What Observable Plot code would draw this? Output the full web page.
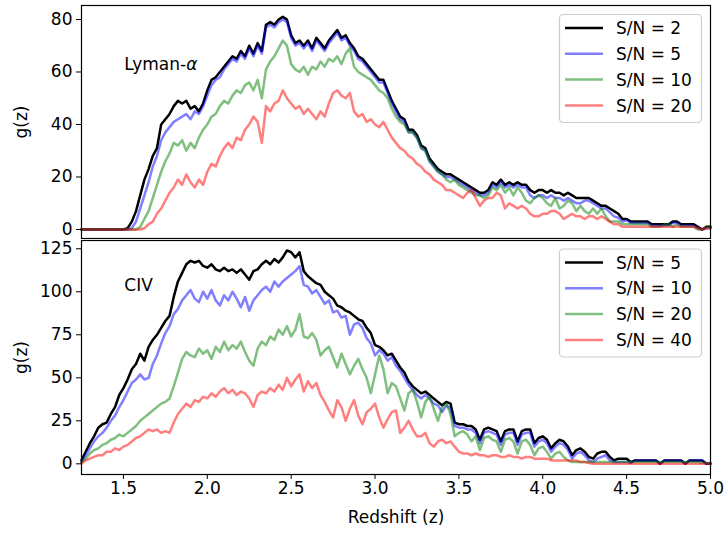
<!DOCTYPE html>
<html><head><meta charset="utf-8">
<script src="https://cdn.jsdelivr.net/npm/d3@7"></script>
<script src="https://cdn.jsdelivr.net/npm/@observablehq/plot@0.6"></script>
<style>
body{margin:0;background:#fff;}
#wrap{position:relative;width:727px;height:538px;font-family:"DejaVu Sans",sans-serif;overflow:hidden;}
.panel{position:absolute;left:0;}
.leg{position:absolute;left:0;top:0;}
</style></head>
<body><div id="wrap"></div>
<script>
// Redshift grid (step 0.025 from 1.25 to 5.00)
const redshift = d3.range(151).map(i => +(1.25 + 0.025 * i).toFixed(3));

// ---- Lyman-alpha panel: g(z) for each S/N ----
const lyaSN2 = [
 0,0,0,0,0,0,0,0,0,0,
 0,0.5,3,7,13,19,23,28,31,40,
 42,44,47,49,48,49,46,47,45,48,
 53,57,58,60,62,64,66,65,68,66,
 70,67,71,68,78,79,78,80,81,80,
 74,71,72,70,72,69,73,71,69,72,
 74,76,73,74,71,69,66,65,63,61,
 59,57,57,53,49,46,43,42,38,38,
 36,32,31,27,25,23,22,21,21,20,
 19,18,17,16,15,14,14,15,18,17,
 19,17,18,17,18,17,17,15,14,15,
 15,14,15,14,14,13,14,13,12,12,
 12,12,11,10,9,9,8,7,6,4,
 4,3,3,3,3,3,2,2,2,2,
 2,3,3,2,2,2,2,1,0,1,
 1];
const lyaSN5 = [
 0,0,0,0,0,0,0,0,0,0,
 0,0,0.5,3,8,13,18,24,28,34,
 37,39,41,42,43,44,42,45,44,47,
 51,55,57,58,61,63,65,64,67,65,
 69,66,70,67,77,78,77,79,80,79,
 73,70,71,69,71,68,72,70,68,71,
 73,75,72,73,70,68,65,64,62,60,
 58,56,56,52,48,45,42,41,37,37,
 35,31,30,26,24,22,21,20,20,19,
 18,17,16,15,14,13,13,14,17,16,
 18,16,17,16,17,16,16,13,12,13,
 13,12,13,12,12,11,12,11,10,10,
 11,11,10,9,8,8,6.5,5,4.5,3,
 3.5,2.5,2.5,2.5,2.5,2.5,1.5,1.5,1.5,1.5,
 1.5,2.5,2.5,1.5,1.5,1.5,1.5,0.5,0,0.5,
 0.5];
const lyaSN10 = [
 0,0,0,0,0,0,0,0,0,0,
 0,0,0,0,1,4,7,12,17,22,
 26,29,33,32,34,30,33,31,35,38,
 40,43,44,47,49,48,51,53,52,55,
 56,53,57,50,61,64,66,69,72,70,
 63,61,60,62,59,62,61,64,62,65,
 64,66,63,67,69,62,60,59,58,57,
 55,53,52,50,46,43,41,40,37,37,
 35,31,30,26,24,22,21,19,18,19,
 17,16,15,14,13,13,12,13,16,15,
 17,14,16,13,16,14,11,10,12,13,
 12,10,9,12,8,9,11,10,7,9,
 7,6,8,6,8,5,3,3,3,2,
 2,2,2,2,2,2,1,1,1,2,
 2,1,2,1,1,1,1,0,0,1,
 1];
const lyaSN20 = [
 0,0,0,0,0,0,0,0,0,0,
 0,0,0,0,0,0.5,2,3,6,8,
 11,14,16,19,17,21,18,16,19,17,
 22,25,24,28,31,33,31,35,34,38,
 40,43,41,33,47,45,48,49,53,50,
 48,46,47,44,46,44,42,45,43,48,
 52,53,51,50,52,45,43,44,41,42,
 40,39,41,38,35,33,31,30,28,27,
 25,24,22,21,19,18,17,15,15,14,
 13,12,14,15,12,9,11,12,12,14,
 13,8,10,9,8,9,8,6,5,5,
 6,6,7,7,6,4,5,6,5,5,
 4,5,5,4,5,4,3,2,2,1,
 1,1,1,1,1,1,1,1,1,1,
 1,1,1,1,1,1,1,0.5,0,0.5,
 0.5];

// ---- CIV panel: g(z) for each S/N ----
const civSN5 = [
 2,7,12,16,21,23,24,29,33,40,
 44,49,55,58,64,60,68,72,75,79,
 83,86,97,106,111,116,118,117,118,115,
 114,116,113,112,114,112,113,111,113,110,
 107,112,113,116,118,116,119,117,120,124,
 123,120,123,112,109,107,105,104,100,98,
 96,92,91,89,88,86,84,83,79,76,
 69,68,66,63,64,60,56,53,48,45,
 43,41,42,40,38,36,34,36,35,24,
 23,23,22,22,20,14,20,21,20,19,
 13,19,20,20,13,19,20,20,12,15,
 16,14,9,12,14,13,10,5,8,9,
 7,4,3,6,7,7,4,2,3,3,
 3,1,2,2,2,2,2,2,0,2,
 2,2,2,2,0,2,2,2,2,0,
 0];
const civSN10 = [
 1,5,9,13,16,18,21,25,28,33,
 37,42,47,49,52,49,50,58,63,70,
 76,80,87,90,95,98,101,96,94,100,
 96,101,95,92,98,95,100,96,91,97,
 89,95,98,101,103,100,106,103,106,108,
 110,112,115,104,103,99,101,97,93,95,
 88,89,85,86,75,81,82,79,73,70,
 63,66,64,60,62,57,54,50,46,43,
 40,38,40,38,35,34,30,34,32,22,
 21,21,20,20,18,12,18,19,18,17,
 11,17,18,18,11,17,18,18,10,13,
 14,12,7,10,12,11,8,3,6,7,
 5,2,1,3,4,5,2,1,1,1,
 1,0.5,2,2,2,2,2,2,0,2,
 2,2,2,2,0,2,2,2,2,0,
 0];
const civSN20 = [
 1,3,6,8,9,11,12,14,15,17,
 16,18,20,22,25,27,29,31,33,35,
 36,38,45,53,61,65,63,62,67,64,
 66,61,68,65,71,66,69,67,71,65,
 60,57,67,71,69,74,72,78,75,80,
 74,78,87,74,73,76,72,63,66,68,
 62,56,64,58,52,57,61,55,50,41,
 52,63,55,41,47,45,38,31,41,43,
 36,27,36,39,32,25,33,35,29,16,
 18,19,17,13,16,8,15,16,14,13,
 7,14,15,13,6,13,14,11,5,9,
 10,7,3,6,7,4,2,1,1,1,
 1,1,1,1,1,1,1,1,1,1,
 1,1,1,1,1,1,1,1,1,1,
 1,1,1,1,1,1,1,1,0.5,0.5,
 0.5];
const civSN40 = [
 0,2,3,4,5,5,7,7,9,8,
 10,11,13,15,16,18,20,19,20,18,
 19,18,24,29,32,35,33,37,36,39,
 38,41,39,42,44,41,43,40,42,41,
 38,33,40,42,41,44,42,46,43,50,
 45,49,52,42,48,44,47,40,36,31,
 27,37,33,25,32,37,28,23,30,32,
 35,27,21,26,30,31,18,21,25,20,
 16,16,18,12,10,13,14,12,13,10,
 7,6,6,5,6,5,5,4,5,5,
 4,4,5,4,4,3,4,4,3,3,
 3,3,2,2,2,2,2,2,2,1,
 1,0.5,0,0,0,0,0,0,0,0,
 0,0,0,0,0,0,0,0,0,0,
 0,0,0,0,0,0,0,0,0,0,
 0];

const lyaLabels = ["S/N = 2", "S/N = 5", "S/N = 10", "S/N = 20"];
const civLabels = ["S/N = 5", "S/N = 10", "S/N = 20", "S/N = 40"];
const xTicks = [1.5, 2.0, 2.5, 3.0, 3.5, 4.0, 4.5, 5.0];
const lyaTicks = [0, 20, 40, 60, 80];
const civTicks = [0, 25, 50, 75, 100, 125];

const colors = ["black", "blue", "green", "red"];
const opac = [1, 0.5, 0.5, 0.5];
const legendColors = ["#000000", "#8080ff", "#80c080", "#ff8080"];

const FONT = "DejaVu Sans";
const FS = 17;
const wrap = document.getElementById("wrap");

function rows(arr) { return redshift.map((z, i) => ({z, g: arr[i]})); }

function lineMarks(series) {
  return series.map((arr, k) => Plot.line(rows(arr), {
    x: "z", y: "g", stroke: colors[k], strokeOpacity: opac[k], strokeWidth: 2.5
  }));
}

const common = {
  width: 727, marginLeft: 81, marginRight: 17,
  style: {fontFamily: FONT, fontSize: FS + "px", color: "black", background: "white", overflow: "visible"},
};

const topPlot = Plot.plot({
  ...common, height: 239, marginTop: 5, marginBottom: 1,
  x: {domain: [1.25, 5.0], axis: null},
  y: {domain: [-3.43, 85.33]},
  marks: [
    ...lineMarks([lyaSN2, lyaSN5, lyaSN10, lyaSN20]),
    Plot.axisY({ticks: lyaTicks, tickSize: 5, tickPadding: 4, tickFormat: d => String(d),
      label: "g(z)", labelAnchor: "center", labelArrow: "none", labelOffset: 67}),
    Plot.text(["Lyman-α"], {x: 1.505, y: 62.9, text: d => d, textAnchor: "start", fontSize: FS, fill: "black"}),
    Plot.frame({stroke: "black", strokeWidth: 1.2})
  ]
});

const bottomPlot = Plot.plot({
  ...common, height: 299, marginTop: 1, marginBottom: 64,
  x: {domain: [1.25, 5.0]},
  y: {domain: [-6.2, 129.8]},
  marks: [
    ...lineMarks([civSN5, civSN10, civSN20, civSN40]),
    Plot.axisY({ticks: civTicks, tickSize: 5, tickPadding: 4, tickFormat: d => String(d),
      label: "g(z)", labelAnchor: "center", labelArrow: "none", labelOffset: 67}),
    Plot.axisX({ticks: xTicks, tickSize: 5, tickPadding: 2, tickFormat: d3.format(".1f"),
      label: "Redshift (z)", labelAnchor: "center", labelArrow: "none", labelOffset: 48}),
    Plot.text(["CIV"], {x: 1.505, y: 103.4, text: d => d, textAnchor: "start", fontSize: FS, fill: "black"}),
    Plot.frame({stroke: "black", strokeWidth: 1.2})
  ]
});

topPlot.classList.add("panel"); topPlot.style.top = "0px";
bottomPlot.classList.add("panel"); bottomPlot.style.top = "239px";
wrap.appendChild(topPlot);
wrap.appendChild(bottomPlot);

// italic alpha in Lyman-α
d3.select(topPlot).selectAll("text").each(function() {
  const t = d3.select(this);
  if (t.text() === "Lyman-α") {
    t.text("Lyman-");
    t.append("tspan").attr("font-style", "italic").text("α");
  }
});

// Legends
function legend(labels, boxTop) {
  const svg = d3.select(wrap).append("svg").attr("class", "leg")
    .attr("width", 727).attr("height", 538);
  svg.append("rect").attr("x", 559.5).attr("y", boxTop + 0.5).attr("width", 142).attr("height", 108)
    .attr("rx", 4).attr("fill", "white").attr("fill-opacity", 0.8)
    .attr("stroke", "#cccccc").attr("stroke-width", 1.2);
  labels.forEach((lab, k) => {
    const y = boxTop + 14 + k * 25.8;
    svg.append("line").attr("x1", 565).attr("x2", 603).attr("y1", y).attr("y2", y)
      .attr("stroke", legendColors[k]).attr("stroke-width", 2.5);
    svg.append("text").attr("x", 616).attr("y", y).attr("dy", "0.36em")
      .attr("font-family", FONT).attr("font-size", FS).attr("fill", "black").text(lab);
  });
}
legend(lyaLabels, 14);
legend(civLabels, 248.5);
</script>
</body></html>
